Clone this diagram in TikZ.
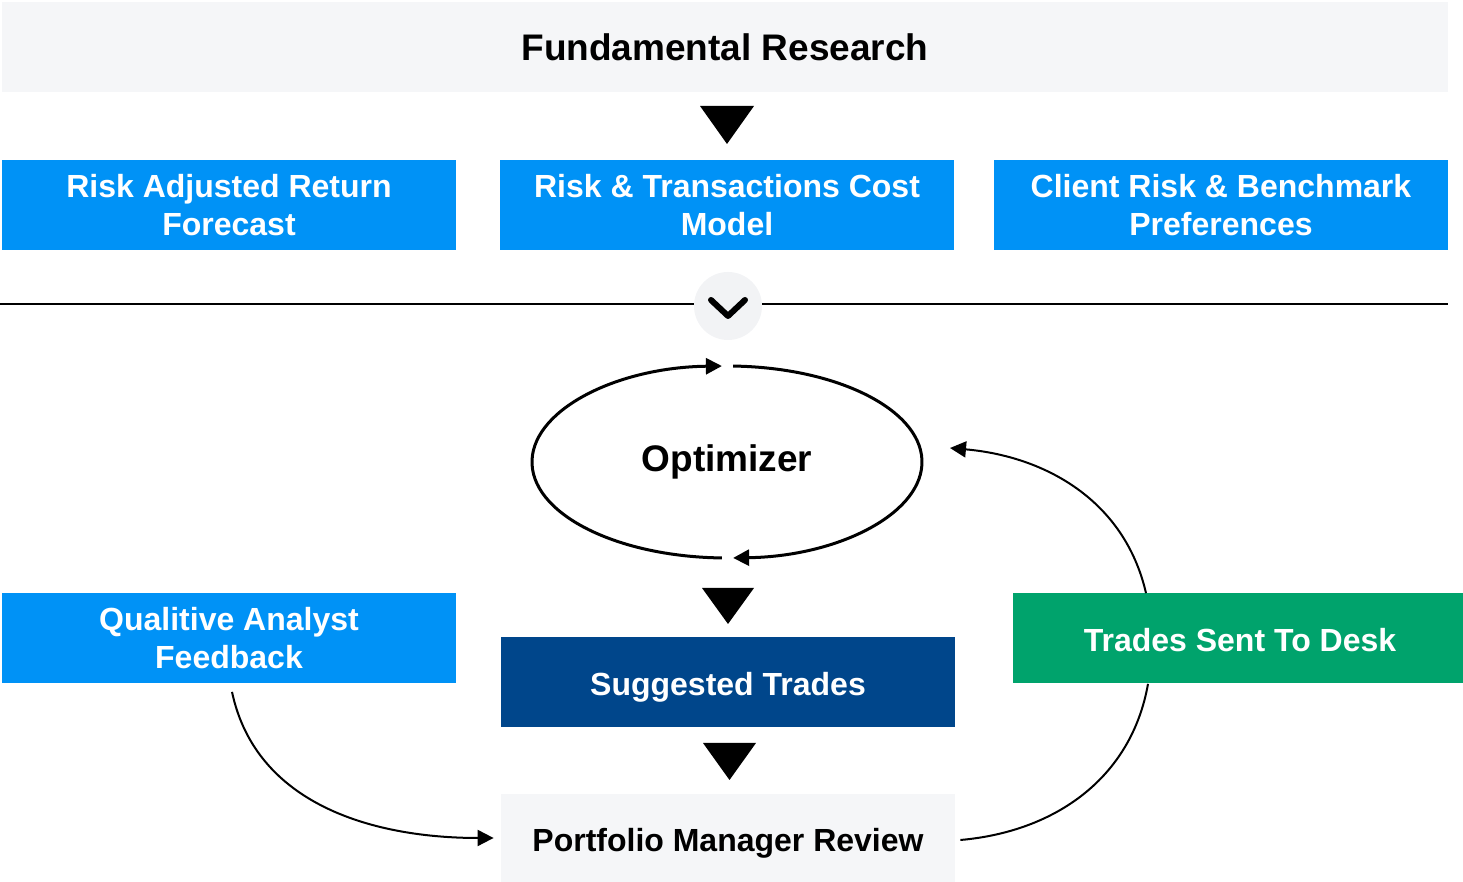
\documentclass[tikz,border=0pt]{standalone}
\usepackage{fontspec}
\setmainfont{Liberation Sans}
\usetikzlibrary{arrows.meta}
\usetikzlibrary{calc}
\definecolor{boxblue}{RGB}{0,146,246}
\definecolor{darkblue}{RGB}{0,70,139}
\definecolor{deskgreen}{RGB}{0,163,108}
\definecolor{lightgrey}{RGB}{245,246,248}
\definecolor{chevgrey}{RGB}{242,243,245}
\tikzset{
  box/.style={minimum width=227pt,minimum height=45pt,inner sep=0pt,align=center,font=\fontsize{16}{19}\selectfont\bfseries},
  oneline/.style={text height=13.5pt,text depth=0pt},
  bluebox/.style={box,fill=boxblue,text=white},
  flow/.style={line width=1pt,-{Triangle[length=8pt,width=8pt]}},
  loop/.style={line width=1.5pt,-{Triangle[length=8pt,width=8pt]}},
}
\begin{document}
\begin{tikzpicture}[x=0.5pt,y=0.5pt]
  \useasboundingbox (0,0) rectangle (1463,882);
  \node[box,fill=lightgrey,minimum width=723pt,font=\fontsize{18.5}{22}\selectfont\bfseries] (fund) at (725,835) {Fundamental Research};
  \fill (700,776)--(754,776)--(727,738)--cycle;
  \node[bluebox] (ret) at (229,677) {Risk Adjusted Return\\Forecast};
  \node[bluebox] (cost) at (727,677) {Risk \& Transactions Cost\\Model};
  \node[bluebox] (client) at (1221,677) {Client Risk \& Benchmark\\Preferences};
  \draw[line width=1pt] (0,578)--(1448,578);
  \node[circle,fill=chevgrey,minimum size=34pt,inner sep=0pt] (chev) at (728,576) {};
  \draw[line width=3pt,line cap=round,line join=round] ($(chev)+(-17,6)$) -- ++(17,-16) -- ++(17,16);
  \node[font=\fontsize{18.5}{22}\selectfont\bfseries] (opt) at (727,420) {Optimizer};
  \draw[loop] ($(opt)+(268.5:97.5pt and 48pt)$) arc[start angle=268.5,end angle=91.5,x radius=97.5pt,y radius=48pt];
  \draw[loop] ($(opt)+(88.2:97.5pt and 48pt)$) arc[start angle=88.2,end angle=-88.2,x radius=97.5pt,y radius=48pt];
  \fill (702,294)--(754,294)--(728,258)--cycle;
  \node[bluebox] (qual) at (229,243.5) {Qualitive Analyst\\Feedback};
  \node[box,oneline,fill=darkblue,text=white] (sugg) at (728,200) {Suggested Trades};
  \node[box,oneline,fill=deskgreen,text=white,minimum width=225pt] (desk) at (1238,243.5) {\hspace{2pt}Trades Sent To Desk};
  \fill (703,139)--(756,139)--(729.5,102)--cycle;
  \node[box,oneline,fill=lightgrey,minimum height=44pt] (pm) at (728,44) {Portfolio Manager Review};
  \coordinate (back) at (950,434);
  \draw[flow] ([xshift=1.5pt,yshift=-4pt]qual.south) to[out=-78,in=180] ([xshift=-3.5pt]pm.west);
  \draw[line width=1pt] ([xshift=2.5pt,yshift=-1pt]pm.east) to[out=5,in=-100] ([xshift=-45pt]desk.south);
  \draw[flow] ([xshift=-46pt]desk.north) to[out=103,in=-5] (back);
\end{tikzpicture}
\end{document}
